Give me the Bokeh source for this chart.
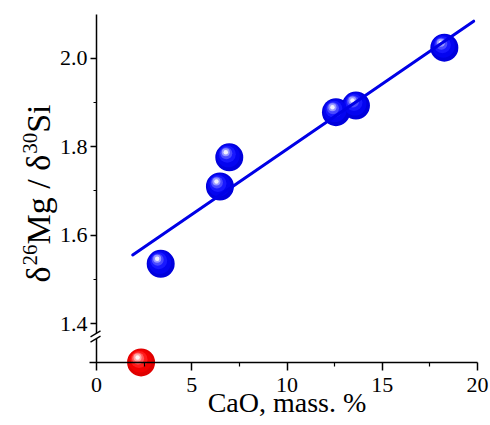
import numpy as np
from bokeh.plotting import figure
from bokeh.models import (LinearAxis, FixedTicker, Range1d, ColumnDataSource,
                          Label, NumeralTickFormatter)
from bokeh.transform import dodge
from bokeh.embed import file_html
from bokeh.resources import INLINE

# ---------------- data ----------------
CAO_BLUE = [3.37, 6.48, 6.97, 12.57, 13.62, 18.26]
RATIO_BLUE = [1.535, 1.710, 1.776, 1.878, 1.893, 2.024]
CAO_RED = [2.34]
RATIO_RED = [1.312]
FIT_X = [1.9, 19.8]
FIT_Y = [1.555, 2.084]
X_TICKS = [0, 5, 10, 15, 20]
X_MINOR = [2.5, 7.5, 12.5, 17.5]
Y_TICKS = [1.4, 1.6, 1.8, 2.0]
Y_MINOR = [1.5, 1.7, 1.9]
X_LABEL = "CaO, mass. %"
# y label pieces: (text, is_superscript)
Y_LABEL_PARTS = [("δ", False), ("26", True), ("Mg / δ", False),
                 ("30", True), ("Si", False)]
Y_AXIS_BOTTOM = 1.312
Y_AXIS_TOP = 2.099
X_AXIS_LEFT = -0.35
BREAK_Y = 1.372

# ---------------- geometry ----------------
W, H = 490, 425
PX_X = 19.05   # px per x unit
PX_Y = 442.0   # px per y unit
X0_PX = 96     # pixel column of x = 0
Y14_PX = 323   # pixel row of y = 1.4
x_start = -X0_PX / PX_X
x_end = x_start + W / PX_X
y_end = 1.4 + Y14_PX / PX_Y
y_start = y_end - H / PX_Y

def xd(px):   # pixel column -> data x
    return (px - X0_PX) / PX_X

def yd(py):   # pixel row -> data y
    return 1.4 + (Y14_PX - py) / PX_Y

FONT = "Liberation Serif"

p = figure(width=W, height=H, output_backend="svg", toolbar_location=None,
           x_axis_location=None, y_axis_location=None,
           x_range=Range1d(x_start, x_end), y_range=Range1d(y_start, y_end),
           min_border=0)
p.min_border_left = 0
p.min_border_right = 0
p.min_border_top = 0
p.min_border_bottom = 0
p.outline_line_color = None
p.background_fill_color = "white"
p.border_fill_color = "white"
p.grid.visible = False

# axes
xaxis = LinearAxis(fixed_location=Y_AXIS_BOTTOM, bounds=(X_AXIS_LEFT, 20),
                   ticker=FixedTicker(ticks=X_TICKS, minor_ticks=X_MINOR),
                   formatter=NumeralTickFormatter(format="0"))
yaxis = LinearAxis(fixed_location=0, bounds=(Y_AXIS_BOTTOM, Y_AXIS_TOP),
                   ticker=FixedTicker(ticks=Y_TICKS, minor_ticks=Y_MINOR),
                   formatter=NumeralTickFormatter(format="0.0"))
for ax in (xaxis, yaxis):
    ax.axis_line_color = "black"
    ax.axis_line_width = 1.5
    ax.major_tick_line_color = "black"
    ax.major_tick_line_width = 1.5
    ax.minor_tick_line_color = "black"
    ax.minor_tick_line_width = 1.2
    ax.major_tick_in = 0
    ax.minor_tick_in = 0
    ax.major_label_text_font = FONT
    ax.major_label_text_font_size = "22px"
    ax.major_label_text_color = "black"
xaxis.major_tick_out = 8
xaxis.minor_tick_out = 4
xaxis.major_label_standoff = 8
yaxis.major_tick_out = 6
yaxis.minor_tick_out = 3
yaxis.major_label_standoff = 3
p.add_layout(xaxis, "below")
p.add_layout(yaxis, "left")

# axis break
def bx(px):
    return px / PX_X

def by(py):
    return -py / PX_Y

brk_patch_x = [bx(-6), bx(4), bx(4), bx(-6)]
brk_patch_y = [BREAK_Y + by(-2.6 + 3.6), BREAK_Y + by(-2.6 - 2.4),
               BREAK_Y + by(2.6 - 2.4), BREAK_Y + by(2.6 + 3.6)]
p.patch(brk_patch_x, brk_patch_y, fill_color="white", line_color=None,
        level="overlay")
for off in (-2.6, 2.6):
    p.segment(x0=[bx(-6)], y0=[BREAK_Y + by(off + 3.6)],
              x1=[bx(4)], y1=[BREAK_Y + by(off - 2.4)],
              line_color="black", line_width=1.3, level="overlay")

# spheres
def sphere(xs, ys, colors):
    src = ColumnDataSource(dict(x=xs, y=ys))
    layers = [(28, 0, 0), (23, -1, -1.5), (17, -2, -3), (12, -3, -4),
              (8, -3.5, -5), (4.5, -3.5, -5)]
    for (s, dxp, dyp), c in zip(layers, colors):
        p.scatter(x=dodge("x", dxp / PX_X, range=p.x_range),
                  y=dodge("y", -dyp / PX_Y, range=p.y_range),
                  source=src, size=s, fill_color=c, line_color=None)

sphere(CAO_BLUE, RATIO_BLUE,
       ["#0000dc", "#0404f0", "#1818ff", "#4a4aff", "#9898ff", "#f0f0ff"])
sphere(CAO_RED, RATIO_RED,
       ["#e00000", "#f20000", "#ff1c1c", "#ff5c5c", "#ffa4a4", "#fff2f2"])

# fit line
p.line(FIT_X, FIT_Y, line_color="#0000e6", line_width=3, line_cap="round")

# x axis title
p.add_layout(Label(x=10, y=yd(402), text=X_LABEL,
                   text_align="center", text_baseline="middle",
                   text_font=FONT, text_font_size="28px", text_color="black"))

# y axis title, built from pieces (rotated, reading upwards)
MAIN_PX, SUP_PX = 34, 21
ADV = {"δ": 0.5, "2": 0.5, "6": 0.5, "3": 0.5, "0": 0.5, "M": 0.889,
       "g": 0.5, " ": 0.25, "/": 0.278, "S": 0.556, "i": 0.278}
pos = 282.0      # pixel row where the label starts (bottom)
for txt, sup in Y_LABEL_PARTS:
    fs = SUP_PX if sup else MAIN_PX
    cx = 29 if sup else 38
    p.add_layout(Label(x=xd(cx), y=yd(pos), text=txt, angle=np.pi / 2,
                       text_align="left", text_baseline="middle",
                       text_font=FONT, text_font_size=f"{fs}px",
                       text_color="black"))
    pos -= sum(ADV[c] for c in txt) * fs

open("out.html", "w").write(file_html(p, INLINE))
